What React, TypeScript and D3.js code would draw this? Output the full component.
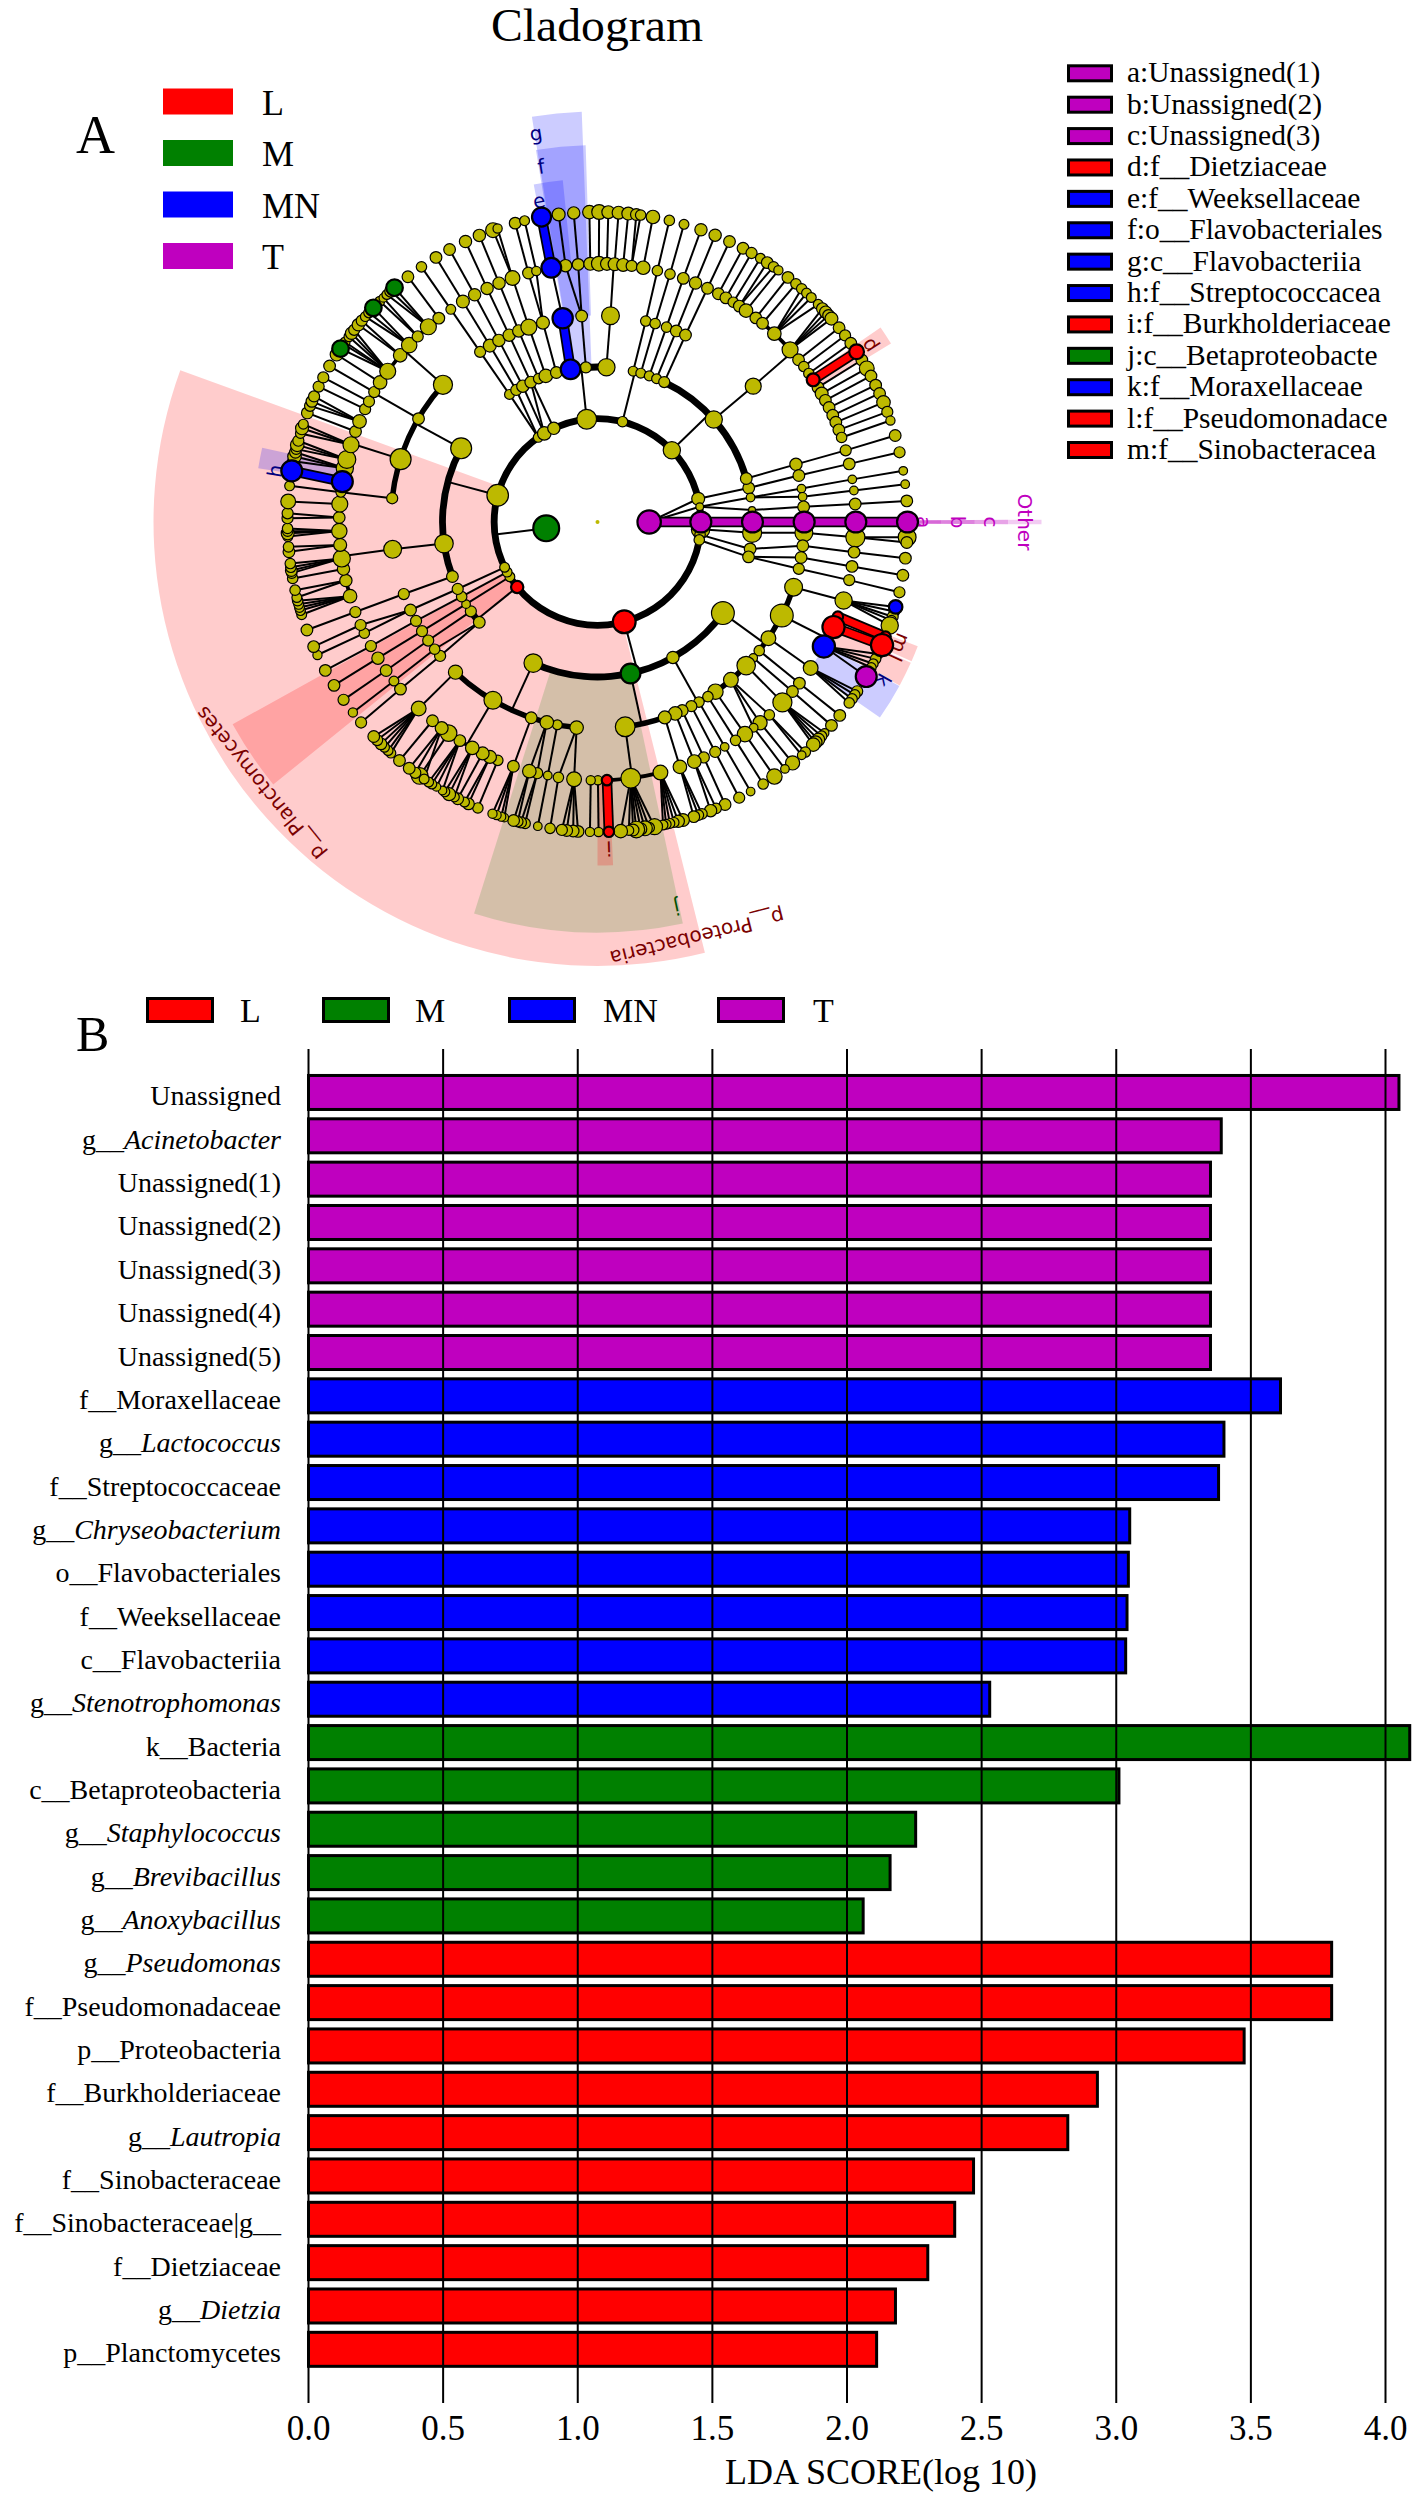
import * as d3 from "d3";

// [angle in degrees clockwise from 12 o'clock, abundance, parent angle, enriched class]
type Row = [number, number, number, string?];

const groups = ["L", "M", "MN", "T"];
const groupColors = ["#ff0000", "#008000", "#0000ff", "#bf00bf"];
const textColors = ["#7a0000", "#005000", "#000080", "#bf00bf"];

const level1: Row[] = [
    [90, 34, 0, "T"],
    [263, 38, 0, "M"],
];
const level2: Row[] = [
    [77, 17, 90], [81.5, 9, 90], [90, 30, 90, "T"],
    [94, 26, 263], [97, 13, 263], [100, 13, 263], [165, 33, 263, "L"], [231, 16, 263, "L"],
    [238, 12, 263], [241, 12, 263], [244, 12, 263], [285, 31, 263], [325, 12, 263], [329, 18, 263],
    [335, 16, 263], [354, 28, 263], [14, 13, 263], [46, 24, 263],
];
const level3: Row[] = [
    [77.3, 15, 77], [80.9, 10, 81.5], [85.6, 8, 81.5], [90, 30, 90, "T"], [94, 27, 94], [100, 15, 97], [103, 15, 100],
    [126, 33, 165], [150.9, 16, 165], [167.7, 28, 165, "M"], [204.5, 26, 165],
    [229.7, 15, 231], [234.8, 14, 231], [238, 10, 238], [241.2, 13, 241], [244.4, 14, 244],
    [249.4, 15, 285], [262, 26, 285], [298.4, 30, 285],
    [325.4, 12, 325], [328.4, 14, 325], [331.2, 16, 329], [334.5, 15, 329],
    [337.7, 13, 335], [340.5, 18, 335], [344.6, 15, 335],
    [350, 28, 354, "MN"], [355.7, 14, 354], [3.3, 24, 354],
    [13.3, 12, 14], [16.2, 12, 14], [19.5, 12, 14], [22.4, 12, 14],
    [25.5, 14, 46], [48.6, 24, 46], [73.7, 15, 46],
];
const level4: Row[] = [
    [73.8, 16, 73.7], [77, 15, 77.3], [80.7, 10, 80.9], [83, 10, 80.9], [85.8, 15, 85.6], [90, 30, 90, "T"], [93, 25, 94],
    [96.6, 15, 100], [99.9, 15, 103], [103.1, 14, 103],
    [108.4, 25, 126], [116.9, 33, 126], [124.2, 20, 126], [128.5, 13, 126],
    [131.1, 10, 150.9], [134, 26, 150.9], [139.8, 20, 150.9], [145.2, 21, 150.9], [147.7, 13, 150.9],
    [150.6, 13, 150.9], [153, 14, 150.9], [155.8, 15, 150.9], [157.9, 18, 150.9],
    [161, 17, 167.7], [172.3, 28, 167.7],
    [185.8, 18, 204.5], [191.2, 12, 204.5], [194.2, 18, 204.5], [198.7, 15, 204.5], [210.4, 25, 204.5], [223.4, 19, 204.5],
    [229.6, 14, 229.7], [232, 13, 229.7], [235, 14, 234.8], [238.1, 14, 238], [241.4, 14, 241.2], [244.8, 15, 244.4],
    [249.6, 14, 249.4], [262.4, 25, 262],
    [276.6, 14, 298.4], [287.7, 30, 298.4], [300, 15, 298.4], [311.6, 27, 298.4],
    [325.4, 14, 325.4], [328.6, 17, 328.4], [331.5, 16, 331.2], [334.7, 16, 334.5], [337.6, 16, 337.7],
    [340.6, 22, 340.5], [344.7, 17, 344.6], [350.3, 29, 350, "MN"], [355.6, 15, 355.7], [3.6, 25, 3.3],
    [13.5, 13, 13.3], [16.2, 13, 16.2], [19.5, 13, 19.5], [22.4, 15, 22.4], [25.2, 15, 25.5], [48.9, 22, 48.6],
];
const level5: Row[] = [
    [73.9, 14, 73.8], [77, 15, 77], [80.5, 10, 80.7], [83, 10, 83], [86, 15, 85.8], [90, 30, 90, "T"], [93.4, 27, 93],
    [96.7, 15, 96.6], [99.9, 15, 99.9], [103, 14, 103.1],
    [107.7, 24, 108.4], [111.5, 13, 116.9, "L"], [114, 32, 116.9, "L"], [118.8, 32, 116.9, "MN"],
    [124.4, 20, 124.2], [128.6, 15, 128.5], [131, 15, 131.1], [134.3, 27, 134],
    [138.3, 13, 139.8], [141, 19, 139.8], [142.8, 10, 139.8], [145.2, 21, 145.2], [147.7, 13, 147.7],
    [150.5, 10, 150.6], [152.9, 14, 153], [155.7, 14, 155.8], [158, 18, 157.9], [161.4, 18, 161],
    [165.9, 20, 172.3], [172.6, 28, 172.3], [177.9, 13, 172.3, "L"], [179.9, 11, 172.3], [181.5, 11, 172.3],
    [185.2, 20, 185.8], [188.7, 13, 185.8], [191.1, 10, 191.2], [193.5, 14, 194.2], [195.3, 18, 194.2], [199, 15, 198.7],
    [202.7, 13, 210.4], [204.6, 17, 210.4], [206.4, 17, 210.4], [209, 18, 210.4], [212.2, 15, 210.4],
    [215.2, 23, 210.4], [217.1, 17, 210.4], [219.7, 15, 210.4], [223.8, 20, 223.4],
    [229.7, 15, 229.6], [232, 12, 232], [234.9, 15, 235], [238.2, 16, 238.1], [241.3, 14, 241.4],
    [244.5, 13, 244.8], [246.5, 14, 244.8], [249.6, 14, 249.6],
    [253.3, 18, 262.4], [256.9, 16, 262.4], [259.5, 16, 262.4], [261.9, 24, 262.4], [264.9, 17, 262.4],
    [268, 21, 262.4], [271, 15, 262.4], [274, 22, 262.4], [276.6, 12, 276.6],
    [279, 30, 287.7, "MN"], [282, 24, 287.7], [284, 25, 287.7], [287.4, 22, 287.7], [290.5, 15, 287.7], [292.9, 18, 287.7],
    [295.9, 14, 300], [297.8, 14, 300], [300.2, 14, 300], [302.7, 18, 300],
    [305.7, 22, 311.6], [310.2, 18, 311.6], [313.2, 21, 311.6], [315.9, 14, 311.6], [319.1, 22, 311.6], [322.1, 15, 311.6],
    [325.4, 12, 325.4], [328.6, 17, 328.6], [331.6, 16, 331.5], [334.7, 16, 334.7], [337.6, 16, 337.6], [340.8, 20, 340.6],
    [344.5, 15, 344.7], [346.3, 11, 344.7], [349.7, 28, 350.3, "MN"], [352.9, 16, 355.6], [355.7, 15, 355.6],
    [358.4, 17, 3.6], [0.3, 20, 3.6], [2.1, 17, 3.6], [3.8, 17, 3.6], [5.7, 17, 3.6], [7.6, 14, 3.6], [10.2, 18, 3.6],
    [13.4, 13, 13.5], [16.3, 13, 16.2], [19.4, 15, 19.5], [22.3, 16, 22.4], [25.2, 15, 25.2],
    [27.9, 15, 48.9], [29.8, 15, 48.9], [31.7, 13, 48.9], [33.3, 15, 48.9], [35.1, 18, 48.9], [37.8, 15, 48.9], [39.7, 15, 48.9],
    [43.2, 18, 48.9], [48.2, 22, 48.9], [51.1, 15, 48.9], [53, 13, 48.9], [54.9, 13, 48.9], [56.6, 17, 48.9, "L"],
    [58.6, 15, 48.9], [60.2, 17, 48.9], [61.9, 15, 48.9], [63.7, 15, 48.9], [65.6, 15, 48.9], [67.3, 15, 48.9],
    [69.1, 15, 48.9], [70.9, 13, 48.9],
];
const level6: Row[] = [
    [73.8, 15, 73.9], [77, 14, 77], [80.5, 10, 80.5], [83, 10, 83], [86.1, 15, 86], [90, 30, 90, "T"],
    [92.8, 25, 93.4], [93.8, 15, 93.4], [96.7, 15, 96.7], [99.9, 15, 99.9], [103.1, 14, 103],
    [106.8, 13, 107.7], [107.8, 14, 107.7], [108.5, 12, 107.7], [109.5, 24, 107.7], [105.9, 18, 107.7, "MN"],
    [111.7, 13, 111.5, "L"], [113.4, 32, 114, "L"],
    [115.2, 13, 118.8], [116.2, 13, 118.8], [117.2, 12, 118.8], [118, 12, 118.8], [119.9, 30, 118.8, "T"],
    [123.1, 14, 124.4], [123.9, 13, 124.4], [124.8, 13, 124.4], [125.7, 13, 124.4],
    [128.6, 15, 128.6], [131, 15, 131],
    [132.9, 10, 134.3], [133.7, 13, 134.3], [134.6, 17, 134.3], [135.3, 17, 134.3], [135.9, 18, 134.3],
    [137.9, 13, 138.3], [138.8, 10, 138.3], [141, 19, 141], [142.8, 10, 142.8], [145.2, 21, 145.2], [147.7, 13, 147.7],
    [150.4, 10, 150.5], [152.8, 14, 152.9], [155.7, 15, 155.7], [157.5, 13, 158], [158.6, 16, 158],
    [160.3, 13, 161.4], [161, 13, 161.4], [161.9, 15, 161.4],
    [164, 17, 165.9], [164.9, 16, 165.9], [165.7, 12, 165.9], [166.5, 12, 165.9], [167.2, 12, 165.9], [167.8, 12, 165.9],
    [169.4, 22, 172.6], [170.4, 13, 172.6], [171.2, 20, 172.6], [172, 16, 172.6], [172.8, 23, 172.6],
    [173.4, 15, 172.6], [174.2, 12, 172.6], [175.7, 18, 172.6],
    [177.9, 13, 177.9, "L"], [179.8, 11, 179.9], [181.4, 11, 181.5],
    [183.6, 15, 185.2], [184.5, 15, 185.2], [185.7, 15, 185.2], [186.6, 14, 185.2], [188.8, 13, 188.7], [191.1, 10, 191.1],
    [193.5, 13, 193.5], [194.3, 14, 193.5], [194.9, 13, 195.3], [195.7, 15, 195.3],
    [197.5, 10, 199], [198.1, 11, 199], [199, 11, 199], [199.8, 11, 199],
    [202.7, 13, 202.7], [204.6, 15, 204.6], [205.4, 12, 204.6], [206.8, 15, 206.4],
    [207.5, 12, 209], [208.6, 17, 209], [209.5, 12, 209],
    [210, 10, 212.2], [211.3, 10, 212.2], [212.3, 12, 212.2], [213, 12, 212.2],
    [215, 23, 215.2], [214, 12, 217.1], [216, 14, 217.1], [217.4, 15, 217.1], [219.7, 15, 219.7],
    [221.8, 12, 223.8], [222.5, 12, 223.8], [223.4, 12, 223.8], [224.3, 15, 223.8], [225.3, 14, 223.8], [226.2, 15, 223.8],
    [229.7, 14, 229.7], [232.1, 11, 232], [235, 14, 234.9], [238.2, 15, 238.2], [241.4, 15, 241.3],
    [244.6, 11, 244.5], [246.3, 15, 246.5], [249.6, 15, 249.6],
    [252.6, 12, 253.3], [253.4, 12, 253.3], [254, 12, 253.3], [254.6, 12, 253.3], [255.3, 13, 253.3],
    [255.9, 12, 256.9], [257.3, 13, 256.9], [259.5, 13, 259.5],
    [260.5, 13, 261.9], [261, 15, 261.9], [261.6, 13, 261.9], [262.3, 13, 261.9], [264.5, 15, 264.9], [265.4, 13, 264.9],
    [267.3, 12, 268], [267.9, 17, 268], [268.3, 13, 268], [268.8, 13, 268], [270.7, 14, 271], [271.6, 14, 271],
    [273.8, 20, 274], [276.7, 12, 276.6], [279.5, 30, 279, "MN"],
    [281.3, 15, 282], [282.2, 18, 282], [283, 15, 282], [283.6, 13, 284], [284.4, 18, 284], [285.2, 14, 284],
    [286.6, 12, 287.4], [287.6, 17, 287.4], [288.4, 12, 287.4], [290.6, 15, 290.5],
    [292, 14, 292.9], [292.9, 15, 292.9], [293.9, 14, 292.9], [295.9, 14, 295.9], [297.8, 14, 297.8], [300.2, 15, 300.2],
    [304, 23, 305.7, "M"], [302.7, 17, 302.7],
    [305, 12, 305.7], [305.5, 12, 305.7], [306.7, 12, 305.7], [307.5, 16, 305.7], [308.3, 14, 305.7],
    [309.5, 16, 310.2], [310.5, 14, 310.2], [311.5, 12, 313.2], [312.5, 13, 313.2], [313.7, 23, 313.2, "M"],
    [315.4, 12, 315.9], [316.3, 10, 315.9], [317.2, 12, 319.1], [318.2, 16, 319.1], [319.1, 23, 319.1, "M"], [322.3, 15, 322.1],
    [325.4, 13, 325.4], [328.6, 15, 328.6], [331.5, 15, 331.6], [334.8, 16, 334.7], [337.6, 16, 337.6],
    [340.3, 20, 340.8], [341.2, 11, 340.8], [344.6, 15, 344.5], [346.4, 12, 346.3], [349.6, 27, 349.7, "MN"],
    [352.8, 17, 352.9], [355.6, 16, 355.7], [358.5, 18, 358.4], [0.3, 20, 0.3], [2, 17, 2.1], [3.9, 17, 3.8], [5.7, 17, 5.7],
    [7.2, 15, 7.6], [8, 13, 7.6], [10.3, 18, 10.2], [13.4, 13, 13.4], [16.2, 12, 16.3], [19.5, 16, 19.4], [22.3, 16, 22.3], [25.2, 15, 25.2],
    [28, 15, 27.9], [29.8, 14, 29.8], [31.7, 12, 31.7], [33.2, 15, 33.3], [34.6, 13, 33.3], [35.7, 11, 35.1], [37.9, 15, 37.8], [39.8, 13, 39.7],
    [41.2, 13, 43.2], [42.4, 12, 43.2], [43.6, 12, 43.2], [45.4, 12, 43.2],
    [46.5, 15, 48.2], [47.4, 16, 48.2], [48.2, 15, 48.2], [49, 17, 48.2],
    [51.2, 15, 51.1], [53, 14, 53], [54.8, 15, 54.9], [56.7, 20, 56.6, "L"], [58.5, 15, 58.6], [60.3, 20, 60.2],
    [61.9, 15, 61.9], [63.8, 15, 63.7], [65.5, 15, 65.6], [67.3, 18, 67.3], [69.2, 14, 69.1], [70.9, 11, 70.9],
];
const levels = [level1, level2, level3, level4, level5, level6];

// same class on both ends but drawn as a plain link in the picture
const plainLinks = [349.7];

// [start, end, first level, reach beyond the tree, class]
const sectors: [number, number, number, number, string][] = [
    [166, 290, 2, 4, "L"],
    [231, 241, 2, 3.2, "L"],
    [168, 197.5, 3, 3, "M"],
    [177.4, 180, 5, 1, "L"],
    [350.8, 357.8, 3, 3, "MN"],
    [350.6, 358.2, 4, 2, "MN"],
    [349.3, 354.2, 5, 1, "MN"],
    [279, 282.5, 5, 1, "MN"],
    [55.5, 58.7, 5, 1, "L"],
    [118.5, 124.7, 5, 1, "MN"],
    [114.2, 118.4, 5, 1, "L"],
    [111.2, 113.9, 5, 1, "L"],
    [89.7, 90.3, 5, 1, "T"],
    [89.7, 90.3, 4, 2, "T"],
    [89.7, 90.3, 3, 3, "T"],
    [89.7, 90.3, 2, 4, "T"],
];
// [text, angle, reach, class, turn of the text]
const sectorLabels: [string, number, number, string, number][] = [
    ["p__Planctomycetes", 232.2, 4, "L", 231],
    ["p__Proteobacteria", 166.5, 4, "L", 166],
    ["Other", 90, 4, "T", 90],
    ["a", 90, 1, "T", 90],
    ["b", 90, 2, "T", 90],
    ["c", 90, 3, "T", 90],
    ["d", 57, 1, "L", 57],
    ["e", 349.7, 1, "MN", 350],
    ["f", 351, 2, "MN", 351],
    ["g", 351, 3, "MN", 351],
    ["h", 279, 1, "MN", 279],
    ["i", 178, 1, "L", 178],
    ["j", 168.4, 3, "M", 168],
    ["k", 119, 1, "MN", 119],
    ["l", 114.5, 1, "L", 114.5],
    ["m", 111.8, 1, "L", 111.8],
];

const cladeLegend = [
    "a:Unassigned(1)", "b:Unassigned(2)", "c:Unassigned(3)", "d:f__Dietziaceae", "e:f__Weeksellaceae",
    "f:o__Flavobacteriales", "g:c__Flavobacteriia", "h:f__Streptococcacea", "i:f__Burkholderiaceae",
    "j:c__Betaproteobacte", "k:f__Moraxellaceae", "l:f__Pseudomonadace", "m:f__Sinobacteracea",
];
const cladeLegendClass = ["T", "T", "T", "L", "MN", "MN", "MN", "MN", "L", "M", "MN", "L", "L"];

const barNames = [
    "Unassigned", "g__Acinetobacter", "Unassigned(1)", "Unassigned(2)", "Unassigned(3)", "Unassigned(4)", "Unassigned(5)",
    "f__Moraxellaceae", "g__Lactococcus", "f__Streptococcaceae", "g__Chryseobacterium", "o__Flavobacteriales",
    "f__Weeksellaceae", "c__Flavobacteriia", "g__Stenotrophomonas",
    "k__Bacteria", "c__Betaproteobacteria", "g__Staphylococcus", "g__Brevibacillus", "g__Anoxybacillus",
    "g__Pseudomonas", "f__Pseudomonadaceae", "p__Proteobacteria", "f__Burkholderiaceae", "g__Lautropia",
    "f__Sinobacteraceae", "f__Sinobacteraceae|g__", "f__Dietziaceae", "g__Dietzia", "p__Planctomycetes",
];
const barValues = [
    4.05, 3.39, 3.35, 3.35, 3.35, 3.35, 3.35,
    3.61, 3.40, 3.38, 3.05, 3.045, 3.04, 3.035, 2.53,
    4.09, 3.01, 2.255, 2.16, 2.06,
    3.80, 3.80, 3.475, 2.93, 2.82, 2.47, 2.40, 2.30, 2.18, 2.11,
];
const barClass = [
    "T", "T", "T", "T", "T", "T", "T",
    "MN", "MN", "MN", "MN", "MN", "MN", "MN", "MN",
    "M", "M", "M", "M", "M",
    "L", "L", "L", "L", "L", "L", "L", "L", "L", "L",
];

const width = 1418;
const height = 2499;
const serif = "'Liberation Serif', 'Times New Roman', serif";
const sans = "'DejaVu Sans', sans-serif";

const color = d3.scaleOrdinal<string, string>().domain(groups).range(groupColors);
const labelColor = d3.scaleOrdinal<string, string>().domain(groups).range(textColors);
const radius = d3.scaleLinear().domain([0, 6]).range([0, 310]);
const nodeSize = d3.scaleLinear().domain([0, 10, 33]).range([0, 4.3, 11.4]);
const reach = (band: number) => radius(6) + band * 33.5;
const rad = (deg: number) => (deg * Math.PI) / 180;
const polar = (depth: number, angle: number) => d3.pointRadial(rad(angle), radius(depth));

const arcPath = d3.arc();

// the span of an arc through some angles, found from the widest empty gap
function span(angles: number[]) {
    const sorted = [...angles].sort((a, b) => a - b);
    let best = -1;
    let from = sorted[0];
    let to = sorted[sorted.length - 1];
    sorted.forEach((a, i) => {
        const next = i + 1 < sorted.length ? sorted[i + 1] : sorted[0] + 360;
        if (next - a > best) {
            best = next - a;
            from = i + 1 < sorted.length ? sorted[i + 1] : sorted[0];
            to = a;
        }
    });
    if (to < from) to += 360;
    return [from, to];
}

const arcWidth = [0, 0, 6.8, 6.8, 5.5, 3.8, 1.7];

function buildTree() {
    const links: { a: [number, number]; b: [number, number]; cls?: string }[] = [];
    const arcs: { depth: number; from: number; to: number }[] = [];
    levels.forEach((rows, i) => {
        const depth = i + 1;
        if (i === 0) return;
        const byParent = d3.group(rows, (d) => d[2]);
        byParent.forEach((kids, parentAngle) => {
            const parent = levels[i - 1].find((d) => d[0] === parentAngle);
            if (!parent) return;
            const [from, to] = span(kids.map((d) => d[0]));
            const full = i === 1 && kids.length > 6;
            const straight = depth === 6 || (i === 1 && !full) || to - from < 5;
            if (full) {
                arcs.push({ depth, from: 0, to: 360 });
                links.push({ a: polar(i, parentAngle), b: polar(depth, parentAngle) });
            } else if (straight) {
                kids.forEach((k) => {
                    const same = parent[3] && k[3] === parent[3] && !plainLinks.includes(k[0]);
                    links.push({
                        a: polar(i, parentAngle),
                        b: polar(depth, k[0]),
                        cls: same ? k[3] : undefined,
                    });
                });
            } else {
                arcs.push({ depth, from, to });
                links.push({ a: polar(i, parentAngle), b: polar(depth, parentAngle) });
            }
        });
    });
    return { links, arcs };
}

function Cladogram() {
    const { links, arcs } = buildTree();
    const nodes = levels.flatMap((rows, i) =>
        rows.map((d) => ({ depth: i + 1, angle: d[0], size: d[1], cls: d[3] }))
    );
    const plain = nodes.filter((d) => !d.cls);
    const marked = nodes.filter((d) => d.cls);
    return (
        <g transform="translate(597.5,522)">
            {sectors.map((s, i) => (
                <path
                    key={i}
                    d={arcPath({
                        innerRadius: radius(s[2]),
                        outerRadius: reach(s[3]),
                        startAngle: rad(s[0]),
                        endAngle: rad(s[1]),
                    }) as string}
                    fill={color(s[4])}
                    fillOpacity={s[4] === "M" ? 0.17 : 0.2}
                />
            ))}
            {sectorLabels.map((l, i) => {
                const [x, y] = d3.pointRadial(rad(l[1]), reach(l[2]) - 17);
                return (
                    <text
                        key={i}
                        transform={`translate(${x},${y}) rotate(${l[4]})`}
                        textAnchor="middle"
                        dy="0.35em"
                        fontFamily={sans}
                        fontSize={20}
                        fill={labelColor(l[3])}
                    >
                        {l[0]}
                    </text>
                );
            })}
            {arcs.map((a, i) => (
                <path
                    key={i}
                    d={arcPath({
                        innerRadius: radius(a.depth) - arcWidth[a.depth] / 2,
                        outerRadius: radius(a.depth) + arcWidth[a.depth] / 2,
                        startAngle: rad(a.from),
                        endAngle: rad(a.to),
                    }) as string}
                    fill="#000"
                />
            ))}
            {links.filter((l) => !l.cls).map((l, i) => (
                <line key={i} x1={l.a[0]} y1={l.a[1]} x2={l.b[0]} y2={l.b[1]} stroke="#000" strokeWidth={2} />
            ))}
            {links.filter((l) => l.cls).map((l, i) => (
                <g key={i}>
                    <line x1={l.a[0]} y1={l.a[1]} x2={l.b[0]} y2={l.b[1]} stroke="#000" strokeWidth={10.5} />
                    <line x1={l.a[0]} y1={l.a[1]} x2={l.b[0]} y2={l.b[1]} stroke={color(l.cls as string)} strokeWidth={7} />
                </g>
            ))}
            <circle r={2} fill="#bdb900" />
            {[...plain, ...marked].map((d, i) => {
                const [x, y] = polar(d.depth, d.angle);
                return (
                    <circle
                        key={i}
                        cx={x}
                        cy={y}
                        r={nodeSize(d.size)}
                        fill={d.cls ? color(d.cls) : "#bdb900"}
                        stroke="#000"
                        strokeWidth={d.cls ? 2.2 : 1.2}
                    />
                );
            })}
        </g>
    );
}

function CladogramLegends() {
    const row = d3.scalePoint<string>().domain(groups).range([101.5, 256]);
    const side = d3.scalePoint<string>().domain(cladeLegend).range([73.3, 450]);
    return (
        <g fontFamily={serif}>
            <text x={597} y={41} textAnchor="middle" fontSize={46} textLength={212} lengthAdjust="spacingAndGlyphs">
                Cladogram
            </text>
            <text x={76} y={153} fontSize={54}>A</text>
            {groups.map((g, i) => (
                <g key={g}>
                    <rect x={163} y={(row(g) as number) - 13} width={70} height={26} fill={groupColors[i]} />
                    <text x={262} y={(row(g) as number) + 13} fontSize={36}>{g}</text>
                </g>
            ))}
            {cladeLegend.map((t, i) => (
                <g key={t}>
                    <rect
                        x={1068.5}
                        y={(side(t) as number) - 7.5}
                        width={43}
                        height={15}
                        fill={color(cladeLegendClass[i])}
                        stroke="#000"
                        strokeWidth={3}
                    />
                    <text x={1127} y={(side(t) as number) + 9} fontSize={29.5}>{t}</text>
                </g>
            ))}
        </g>
    );
}

function BarChart() {
    const x = d3.scaleLinear().domain([0, 4]).range([308.5, 1385.5]);
    const y = d3
        .scaleBand<string>()
        .domain(barNames)
        .range([1070.8, 2371])
        .paddingInner(0.2155)
        .paddingOuter(0.1078);
    const legendX = [146, 322, 508, 717];
    const legendText = [240, 415, 603, 813];
    return (
        <g fontFamily={serif}>
            <text x={76} y={1051} fontSize={50}>B</text>
            {groups.map((g, i) => (
                <g key={g}>
                    <rect x={legendX[i] + 1.5} y={998.5} width={65} height={23} fill={groupColors[i]} stroke="#000" strokeWidth={3} />
                    <text x={legendText[i]} y={1022} fontSize={34}>{g}</text>
                </g>
            ))}
            {barNames.map((name, i) => (
                <rect
                    key={name}
                    x={x(0)}
                    y={y(name)}
                    width={x(barValues[i]) - x(0)}
                    height={y.bandwidth()}
                    fill={color(barClass[i])}
                    stroke="#000"
                    strokeWidth={3}
                />
            ))}
            {barNames.map((name) => (
                <text key={name} x={281} y={(y(name) as number) + y.bandwidth() / 2 + 13} textAnchor="end" fontSize={28}>
                    {name.startsWith("g__") ? (
                        <>
                            g__<tspan fontStyle="italic">{name.slice(3)}</tspan>
                        </>
                    ) : (
                        name
                    )}
                </text>
            ))}
            {x.ticks(8).map((t) => (
                <g key={t}>
                    <line x1={x(t)} x2={x(t)} y1={1049} y2={2403} stroke="#000" strokeWidth={2} />
                    <text x={x(t)} y={2440} textAnchor="middle" fontSize={35}>{d3.format(".1f")(t)}</text>
                </g>
            ))}
            <text x={881} y={2484} textAnchor="middle" fontSize={36}>LDA SCORE(log 10)</text>
        </g>
    );
}

export default function App() {
    return (
        <svg
            width={width}
            height={height}
            viewBox={`0 0 ${width} ${height}`}
            style={{ position: "absolute", left: 0, top: 0, background: "#fff" }}
        >
            <Cladogram />
            <CladogramLegends />
            <BarChart />
        </svg>
    );
}
